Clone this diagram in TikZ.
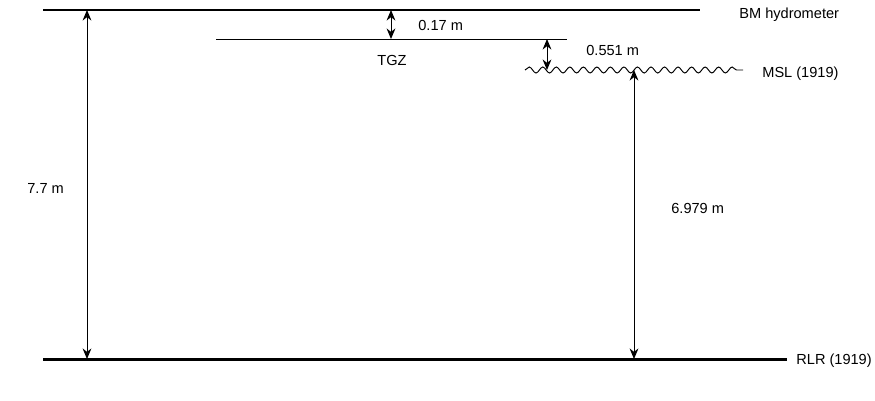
\documentclass[tikz,border=0pt]{standalone}
\usepackage{fontspec}
\setmainfont{Liberation Sans}
\usetikzlibrary{arrows.meta,decorations.pathmorphing}

\begin{document}
\begin{tikzpicture}[x=0.02cm, y=-0.02cm,
    >={Stealth[length=6pt,width=5pt]},
    level/.style={line width=1.7pt},
    thinlevel/.style={line width=0.55pt},
    dimline/.style={line width=0.55pt, <->},
    lbl/.style={inner sep=0pt, font=\fontsize{8.3}{10}\selectfont}]
    \useasboundingbox (0,0) rectangle (875,400);
    % levels
    \coordinate (bm-l) at (43,10);   \coordinate (bm-r) at (700,10);
    \coordinate (tgz-l) at (216,39); \coordinate (tgz-r) at (567,39);
    \coordinate (msl-l) at (525,70); \coordinate (msl-r) at (743,70);
    \coordinate (rlr-l) at (43,359); \coordinate (rlr-r) at (787,359);
    \draw[level] (bm-l) -- (bm-r);
    \draw[thinlevel] (tgz-l) -- (tgz-r);
    \draw[thinlevel, decorate, decoration={snake, segment length=7.7pt, amplitude=1.7pt}] (msl-l) -- (msl-r);
    \draw[level] (rlr-l) -- (rlr-r);
    \node[lbl, anchor=base west] (bm) at (739,18.5) {BM hydrometer};
    \node[lbl, anchor=base] (tgz) at (392,65) {TGZ};
    \node[lbl, anchor=base west] (msl) at (762,77) {MSL (1919)};
    \node[lbl, anchor=base west] (rlr) at (796,364) {RLR (1919)};
    % heights
    \coordinate (a-top) at (87,10);   \coordinate (a-bot) at (87,359);
    \coordinate (b-top) at (391,10);  \coordinate (b-bot) at (391,39);
    \coordinate (c-top) at (547,39);  \coordinate (c-bot) at (547,70);
    \coordinate (d-top) at (634,70);  \coordinate (d-bot) at (634,359);
    \draw[dimline] (a-top) -- (a-bot);
    \draw[dimline] (b-top) -- (b-bot);
    \draw[dimline] (c-top) -- (c-bot);
    \draw[dimline] (d-top) -- (d-bot);
    \node[lbl, anchor=base west] (h-a) at (27,193) {7.7 m};
    \node[lbl, anchor=base west] (h-b) at (418,30) {0.17 m};
    \node[lbl, anchor=base west] (h-c) at (586,55) {0.551 m};
    \node[lbl, anchor=base west] (h-d) at (671,213) {6.979 m};
\end{tikzpicture}
\end{document}
